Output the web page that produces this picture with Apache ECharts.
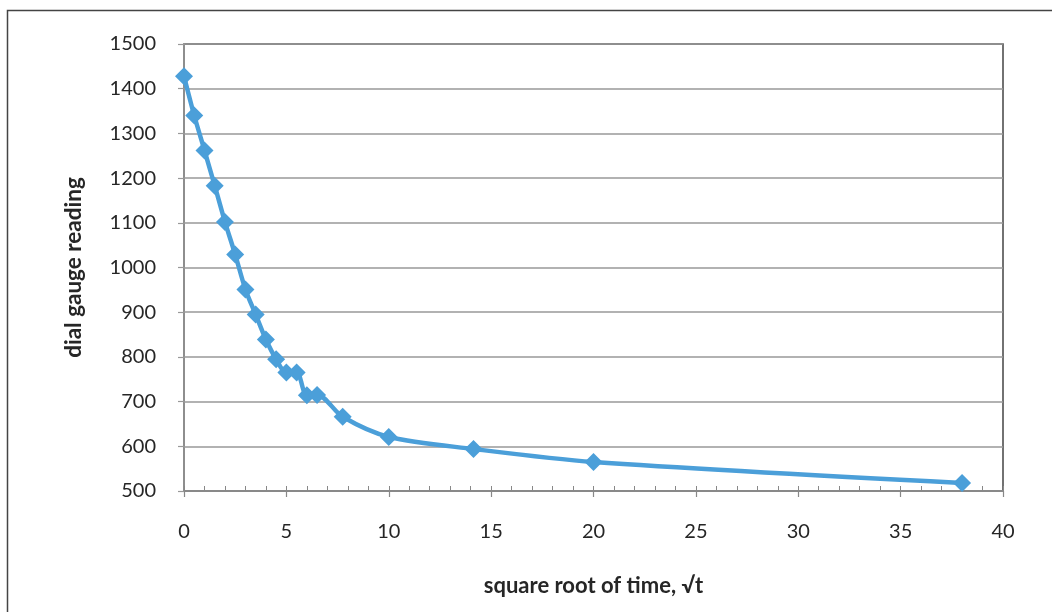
<!DOCTYPE html>
<html>
<head>
<meta charset="utf-8">
<script src="https://cdn.jsdelivr.net/npm/echarts@6/dist/echarts.min.js"></script>
<style>
html,body{margin:0;padding:0;background:#fff;}
#chart{width:1052px;height:612px;}
</style>
</head>
<body>
<div id="chart"></div>
<script>
// data
const sqrtTime = [0, 0.5, 1, 1.5, 2, 2.5, 3, 3.5, 4, 4.5, 5, 5.5, 6, 6.5, 7.75, 10, 14.14, 20, 38];
const dialReading = [1428, 1340, 1262, 1183, 1102, 1029, 951, 895, 839, 795, 765, 765, 714, 715, 666, 621, 594, 565, 518];
const xTickLabels = ['0', '5', '10', '15', '20', '25', '30', '35', '40'];
const yTickLabels = ['500', '600', '700', '800', '900', '1000', '1100', '1200', '1300', '1400', '1500'];

const points = sqrtTime.map((x, i) => [x, dialReading[i]]);
const font = 'Lato, "Open Sans", sans-serif';
const chart = echarts.init(document.getElementById('chart'));
const gridBox = {left: 184, right: 49, top: 44, bottom: 121};

chart.setOption({
  animation: false,
  backgroundColor: '#fff',
  graphic: [{
    type: 'rect', left: 5, top: 8, z: -10,
    shape: {x: 0, y: 0, width: 1100, height: 700},
    style: {fill: 'none', stroke: '#444', lineWidth: 1.5}
  }],
  grid: [
    Object.assign({show: true, borderColor: '#444', borderWidth: 1.5, backgroundColor: 'transparent'}, gridBox),
    Object.assign({show: false}, gridBox)
  ],
  xAxis: [{
    type: 'value', gridIndex: 0, min: 0, max: 40, interval: 5,
    name: 'square root of time, \u221At', nameLocation: 'middle', nameGap: 84,
    nameTextStyle: {fontFamily: font, fontSize: 22, fontWeight: 'bold', color: '#262626', verticalAlign: 'top'},
    axisLine: {show: true, lineStyle: {color: '#888', width: 1.5}},
    axisTick: {show: true, inside: false, length: 6, lineStyle: {color: '#888', width: 1.2}},
    axisLabel: {fontFamily: font, fontSize: 20, color: '#262626', margin: 31,
      formatter: v => xTickLabels[Math.round(v / 5)] ?? ''},
    splitLine: {show: false}
  }, {
    type: 'value', gridIndex: 1, min: 0, max: 40, interval: 1, position: 'bottom',
    axisLine: {show: false},
    axisTick: {show: true, inside: true, length: 5, lineStyle: {color: '#888', width: 1}},
    axisLabel: {show: false},
    splitLine: {show: false}
  }],
  yAxis: [{
    type: 'value', gridIndex: 0, min: 500, max: 1500, interval: 100,
    name: 'dial gauge reading', nameLocation: 'middle', nameGap: 99, nameRotate: 90,
    nameTextStyle: {fontFamily: font, fontSize: 22.5, fontWeight: 'bold', color: '#262626'},
    axisLine: {show: true, lineStyle: {color: '#999', width: 1.5}},
    axisTick: {show: true, inside: false, length: 6, lineStyle: {color: '#999', width: 1.2}},
    axisLabel: {fontFamily: font, fontSize: 20, color: '#262626', margin: 28,
      formatter: v => yTickLabels[Math.round((v - 500) / 100)] ?? ''},
    splitLine: {show: true, lineStyle: {color: '#999', width: 1.5}}
  }, {
    type: 'value', gridIndex: 1, min: 500, max: 1500, show: false
  }],
  series: [{
    type: 'line', xAxisIndex: 0, yAxisIndex: 0,
    data: points, smooth: 0.3,
    symbol: 'diamond', symbolSize: 18,
    lineStyle: {color: '#4b9fd9', width: 4.5},
    itemStyle: {color: '#4b9fd9'},
    z: 5
  }]
});
</script>
</body>
</html>
